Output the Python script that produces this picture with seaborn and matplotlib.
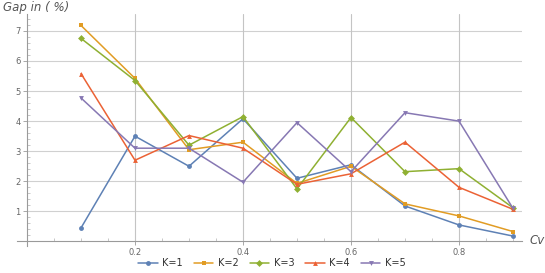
import numpy as np
import pandas as pd
import seaborn as sns
import matplotlib.pyplot as plt
from matplotlib.ticker import MultipleLocator

cv = [0.1, 0.2, 0.3, 0.4, 0.5, 0.6, 0.7, 0.8, 0.9]
k1 = [0.45, 3.50, 2.50, 4.08, 2.10, 2.55, 1.18, 0.55, 0.18]
k2 = [7.18, 5.42, 3.05, 3.30, 1.93, 2.50, 1.25, 0.85, 0.33]
k3 = [6.75, 5.35, 3.20, 4.15, 1.75, 4.12, 2.32, 2.42, 1.12]
k4 = [5.58, 2.70, 3.52, 3.10, 1.90, 2.25, 3.30, 1.80, 1.07]
k5 = [4.77, 3.10, 3.10, 1.97, 3.95, 2.32, 4.28, 4.00, 1.10]
labels = ["K=1", "K=2", "K=3", "K=4", "K=5"]
colors = ["#5E81B5", "#E19C24", "#8FB032", "#EB6235", "#8778B3"]
marks = ["o", "s", "D", "^", "v"]

series = [k1, k2, k3, k4, k5]
df = pd.DataFrame({
    "Cv": np.tile(cv, len(series)),
    "Gap": np.concatenate(series),
    "K": np.repeat(labels, len(cv)),
})

sns.set_style("white")
plt.rcParams['font.family'] = ['DejaVu Sans']

fig = plt.figure(figsize=(5.45, 2.73), dpi=100)
ax = fig.add_axes([17/545, (273-246)/273, (522-17)/545, (246-14)/273])

sns.lineplot(data=df, x="Cv", y="Gap", hue="K", style="K",
             palette=dict(zip(labels, colors)),
             markers=dict(zip(labels, marks)),
             dashes=False, linewidth=1.1, markersize=3.5,
             markeredgewidth=0, ax=ax, legend=True)

ax.set_xlim(-0.0185, 0.9167)
ax.set_ylim(-0.15, 7.56)

for s in ["top", "right"]:
    ax.spines[s].set_visible(False)
ax.spines["left"].set_position(("data", 0))
ax.spines["bottom"].set_position(("data", 0))
for s in ["left", "bottom"]:
    ax.spines[s].set_color("#9a9a9a")
    ax.spines[s].set_linewidth(0.8)

ax.set_xticks([0.2, 0.4, 0.6, 0.8])
ax.set_xticklabels(["0.2", "0.4", "0.6", "0.8"])
ax.set_yticks([1, 2, 3, 4, 5, 6, 7])
ax.set_yticklabels(["1", "2", "3", "4", "5", "6", "7"])
ax.xaxis.set_minor_locator(MultipleLocator(0.05))
ax.yaxis.set_minor_locator(MultipleLocator(0.2))
ax.tick_params(axis="both", which="major", direction="out", length=3,
               width=0.6, color="#9a9a9a", labelsize=6, labelcolor="#666666", pad=1.5)
ax.tick_params(axis="both", which="minor", direction="in", length=2,
               width=0.5, color="#b0b0b0")
ax.tick_params(axis="x", which="both", bottom=True)
ax.tick_params(axis="y", which="both", left=True)

for y in range(1, 8):
    ax.plot([0, 0.9167], [y, y], color="#d0d0d0", lw=0.8, zorder=0)
for x in [0.2, 0.4, 0.6, 0.8]:
    ax.plot([x, x], [0, 7.56], color="#c4c4c4", lw=0.8, zorder=0)

ax.set_xlabel("")
ax.set_ylabel("")
fig.text(3/545, 1 - 8/273, "Gap in ( %)", style="italic", fontsize=8.5,
         color="#555555", va="center", ha="left")
fig.text(529/545, 1 - 241/273, "Cv", style="italic", fontsize=8.5,
         color="#555555", va="center", ha="left")

handles, labs = ax.get_legend_handles_labels()
ax.get_legend().remove()
fig.legend(handles, labs, loc="center", bbox_to_anchor=(272/545, 1 - 263/273),
           ncol=5, frameon=False, fontsize=7, handlelength=2.0,
           columnspacing=1.1, handletextpad=0.5, borderaxespad=0,
           labelcolor="#333333")

fig.savefig("out.png", dpi=100)
